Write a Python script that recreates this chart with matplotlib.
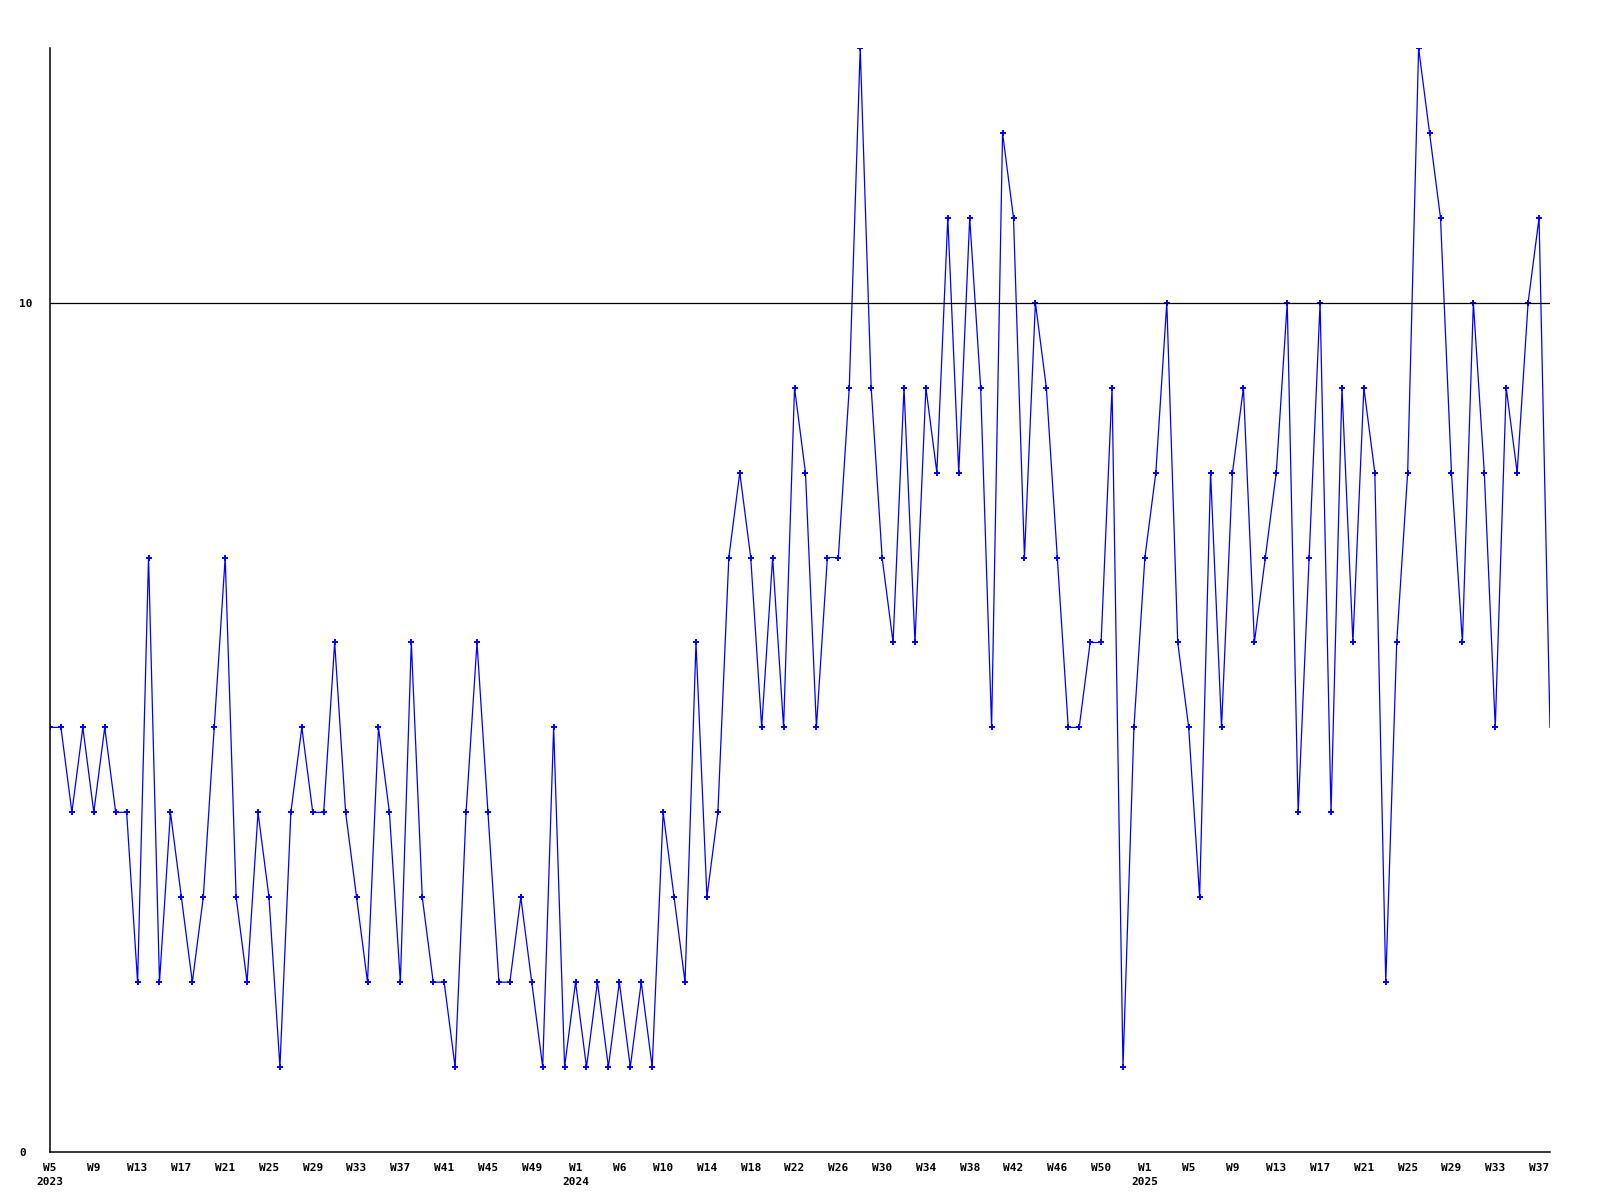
import matplotlib
matplotlib.use("Agg")
import matplotlib.pyplot as plt

# weekly counts, 2023 W5 .. 2025 W38
values = [5, 5, 4, 5, 4, 5, 4, 4, 2, 7,
          2, 4, 3, 2, 3, 5, 7, 3, 2, 4,
          3, 1, 4, 5, 4, 4, 6, 4, 3, 2,
          5, 4, 2, 6, 3, 2, 2, 1, 4, 6,
          4, 2, 2, 3, 2, 1, 5, 1, 2, 1,
          2, 1, 2, 1, 2, 1, 4, 3, 2, 6,
          3, 4, 7, 8, 7, 5, 7, 5, 9, 8,
          5, 7, 7, 9, 13, 9, 7, 6, 9, 6,
          9, 8, 11, 8, 11, 9, 5, 12, 11, 7,
          10, 9, 7, 5, 5, 6, 6, 9, 1, 5,
          7, 8, 10, 6, 5, 3, 8, 5, 8, 9,
          6, 7, 8, 10, 4, 7, 10, 4, 9, 6,
          9, 8, 2, 6, 8, 13, 12, 11, 8, 6,
          10, 8, 5, 9, 8, 10, 11, 5]

# one label every 4 weeks
week_labels = ["W5", "W9", "W13", "W17", "W21", "W25", "W29", "W33", "W37", "W41", "W45", "W49",
               "W1", "W6", "W10", "W14", "W18", "W22", "W26", "W30", "W34", "W38", "W42", "W46", "W50",
               "W1", "W5", "W9", "W13", "W17", "W21", "W25", "W29", "W33", "W37"]
year_labels = {0: "2023", 12: "2024", 25: "2025"}

y_ticks = [0, 10]
ref_level = 10

fig = plt.figure(figsize=(16, 12), dpi=100)
ax = fig.add_axes([0.03125, 0.04, 0.9375, 0.92])

x = list(range(len(values)))
ax.plot(x, values, color="#0000ff", linewidth=0.9, marker="+", markersize=4,
        markeredgewidth=1.4, markevery=slice(0, len(values) - 1))
ax.axhline(ref_level, color="black", linewidth=0.9)

ax.set_xlim(0, len(values) - 1)
ax.set_ylim(0, 13)

for side in ["top", "right"]:
    ax.spines[side].set_visible(False)
for side in ["left", "bottom"]:
    ax.spines[side].set_linewidth(1.1)

font = dict(family="DejaVu Sans Mono", weight="bold", size=8)

ticks = [i * 4 for i in range(len(week_labels))]
labels = []
for i, w in enumerate(week_labels):
    if i in year_labels:
        labels.append(w + "\n" + year_labels[i])
    else:
        labels.append(w)
ax.set_xticks(ticks)
ax.set_xticklabels(labels, fontdict=font, linespacing=1.45, va="top")
ax.tick_params(axis="x", length=0, pad=8)

ax.set_yticks(y_ticks)
ax.set_yticklabels([str(v) for v in y_ticks], fontdict=font)
ax.tick_params(axis="y", length=0, pad=22)
for lab in ax.get_yticklabels():
    lab.set_horizontalalignment("left")

fig.savefig("out.png", dpi=100, facecolor="white")
